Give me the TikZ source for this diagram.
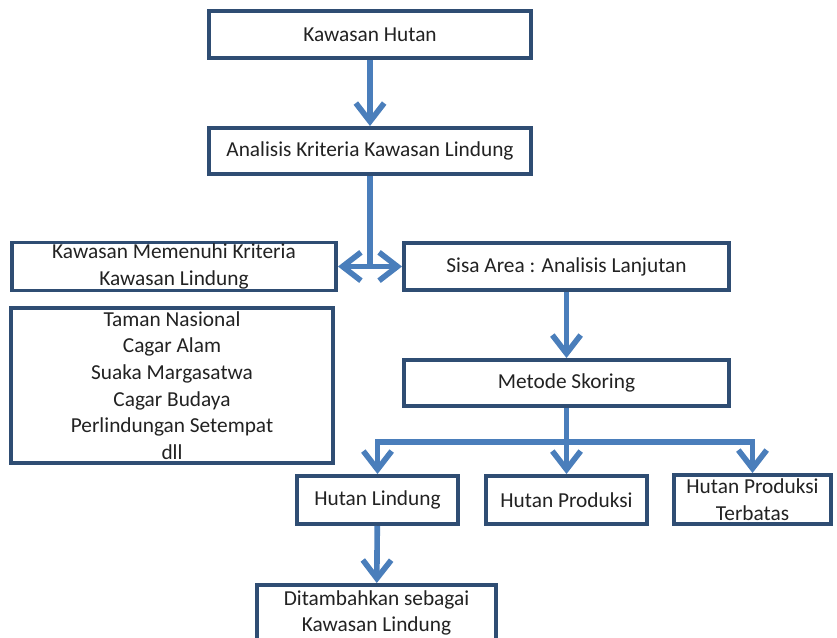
\documentclass[tikz,border=0pt]{standalone}
\usepackage{fontspec}
\setmainfont{Carlito}
\usetikzlibrary{positioning, calc, arrows.meta}
\definecolor{garisbiru}{HTML}{4A7EBB}
\definecolor{tepikotak}{HTML}{2F4D73}
\definecolor{teks}{HTML}{222222}
\tikzset{ujung/.tip={Straight Barb[length=5.5mm, width=8.5mm]}}

\begin{document}
\begin{tikzpicture}[x=0.03cm, y=-0.03cm,
    kotak/.style={draw=tepikotak, line width=3.4pt, fill=white, text=teks,
        align=center, inner sep=0pt, font=\fontsize{18.2}{22.7}\selectfont},
    panah/.style={draw=garisbiru, line width=4.8pt}]
    % frame of the page
    \useasboundingbox (0,0) rectangle (837,637);
    \clip (0,0) rectangle (837,637);

    % ; main column ;
    \node[kotak, minimum width=9.66cm, minimum height=1.41cm] (hutan) at (370,34.5) {Kawasan Hutan};
    \node[kotak, minimum width=9.66cm, minimum height=1.38cm] (analisis) at (370,151) {Analisis Kriteria Kawasan Lindung};

    % split after the analysis
    \node[kotak, minimum width=9.72cm, minimum height=1.44cm] (memenuhi) at (174,266.5) {Kawasan Memenuhi Kriteria\\Kawasan Lindung};
    \node[kotak, minimum width=9.75cm, minimum height=1.41cm] (sisa) at (566.5,266.5) {Sisa Area : Analisis Lanjutan};
    \node[kotak, minimum width=9.66cm, minimum height=4.65cm] (daftar) at (172,385.5)
        {Taman Nasional\\Cagar Alam\\Suaka Margasatwa\\Cagar Budaya\\Perlindungan Setempat\\dll};
    \node[kotak, minimum width=9.75cm, minimum height=1.38cm] (metode) at (566.5,383) {Metode Skoring};

    % scoring results
    \node[kotak, minimum width=4.83cm, minimum height=1.44cm] (lindung) at (377.5,500) {Hutan Lindung};
    \node[kotak, minimum width=4.83cm, minimum height=1.44cm] (produksi) at (566.5,500) {Hutan Produksi};
    \node[kotak, minimum width=4.71cm, minimum height=1.47cm] (terbatas) at (752.5,499.5) {Hutan Produksi\\Terbatas};
    \node[kotak, minimum width=7.17cm, minimum height=1.68cm] (tambah) at (376.5,613) {Ditambahkan sebagai\\Kawasan Lindung};

    % arrows
    \draw[panah, -ujung] (hutan) -- (analisis);
    \draw[panah] (analisis.south) -- (analisis.south |- sisa.west);
    \draw[panah, ujung-ujung] (memenuhi.east) -- (sisa.west);
    \draw[panah, -ujung] (sisa) -- (metode);

    % branch to the three forest classes
    \coordinate (cabang) at (566.5,442);
    \draw[panah, -ujung] (metode.south) -- (produksi.north);
    \draw[panah, ujung-ujung] (lindung.north) |- (cabang) -| (terbatas.north);
    \draw[panah, -ujung] (lindung) -- (tambah);
\end{tikzpicture}
\end{document}
